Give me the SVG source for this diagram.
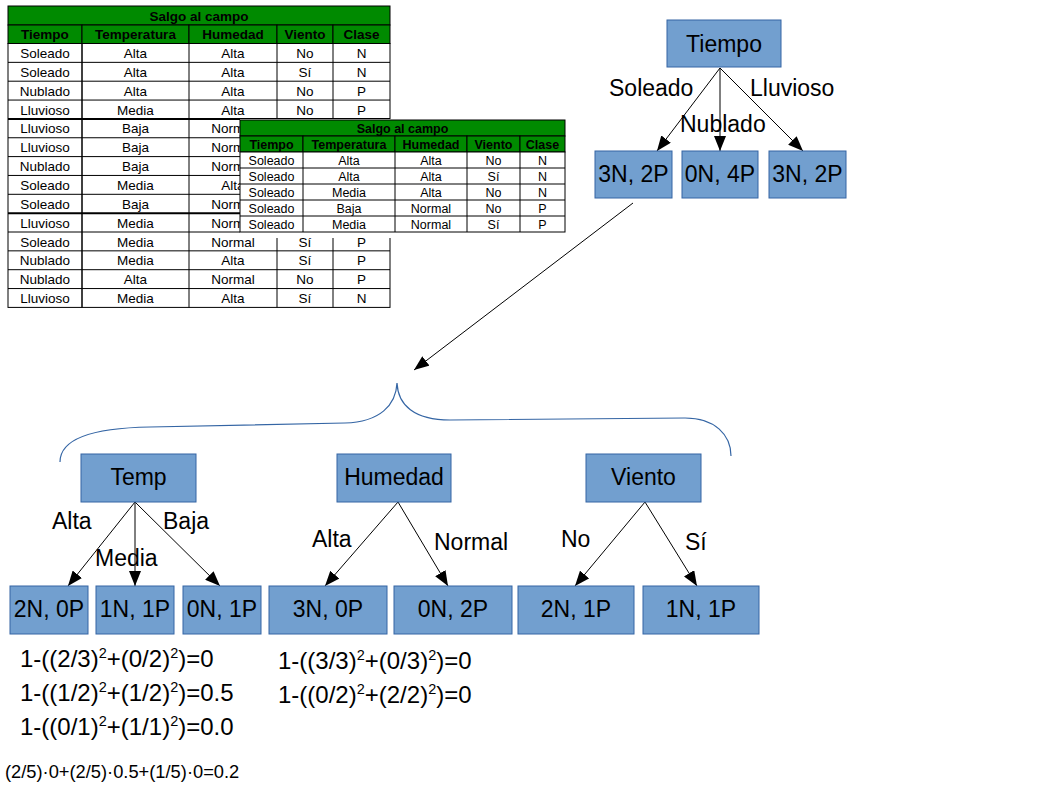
<svg xmlns="http://www.w3.org/2000/svg" width="1058" height="794" viewBox="0 0 1058 794">
<style>
text{font-family:"Liberation Sans",Arial,sans-serif;fill:#000}
.t1 text{font-size:13.5px;text-anchor:middle}
.t2 text{font-size:12.5px;text-anchor:middle}
.hd{font-weight:bold}
.cell{fill:#fff;stroke:#000;stroke-width:1}
.grn{fill:#008a00;stroke:#000;stroke-width:1}
.box{fill:#729fcf;stroke:#3465a4;stroke-width:1}
.lbl{font-size:23px}
.ctr{text-anchor:middle}
.edge{stroke:#000;stroke-width:1;fill:none;marker-end:url(#ah)}
.f{font-size:24px}
</style>
<defs>
<marker id="ah" markerWidth="15" markerHeight="12" refX="15" refY="6" orient="auto" markerUnits="userSpaceOnUse"><path d="M0,0 L15,6 L0,12 z" fill="#000"/></marker>
<clipPath id="cut"><rect x="0" y="0" width="240" height="320"/></clipPath>
</defs>
<rect width="1058" height="794" fill="#fff"/>

<g id="table-full" class="t1">
<rect class="grn" x="8" y="6" width="382" height="19"/>
<rect class="grn" x="8" y="25" width="74" height="18.5"/>
<rect class="grn" x="82" y="25" width="107" height="18.5"/>
<rect class="grn" x="189" y="25" width="88" height="18.5"/>
<rect class="grn" x="277" y="25" width="56" height="18.5"/>
<rect class="grn" x="333" y="25" width="57" height="18.5"/>
<text class="hd" x="199" y="21">Salgo al campo</text>
<text class="hd" x="45" y="39">Tiempo</text>
<text class="hd" x="135.5" y="39">Temperatura</text>
<text class="hd" x="233" y="39">Humedad</text>
<text class="hd" x="305" y="39">Viento</text>
<text class="hd" x="361.5" y="39">Clase</text>
<rect class="cell" x="8" y="43.5" width="382" height="263.9"/>
<g stroke="#000" stroke-width="1">
<line x1="82" y1="43.5" x2="82" y2="307.4" stroke-width="1.5"/>
<line x1="189" y1="43.5" x2="189" y2="307.4"/>
<line x1="277" y1="43.5" x2="277" y2="307.4"/>
<line x1="333" y1="43.5" x2="333" y2="307.4"/>
<line x1="8" y1="62.35" x2="390" y2="62.35"/>
<line x1="8" y1="81.2" x2="390" y2="81.2"/>
<line x1="8" y1="100.05" x2="390" y2="100.05"/>
<line x1="8" y1="118.9" x2="390" y2="118.9" stroke-width="2"/>
<line x1="8" y1="137.75" x2="390" y2="137.75"/>
<line x1="8" y1="156.6" x2="390" y2="156.6"/>
<line x1="8" y1="175.45" x2="390" y2="175.45"/>
<line x1="8" y1="194.3" x2="390" y2="194.3"/>
<line x1="8" y1="213.15" x2="390" y2="213.15" stroke-width="2"/>
<line x1="8" y1="232" x2="390" y2="232"/>
<line x1="8" y1="250.85" x2="390" y2="250.85"/>
<line x1="8" y1="269.7" x2="390" y2="269.7"/>
<line x1="8" y1="288.55" x2="390" y2="288.55"/>
</g>
<text x="45" y="58">Soleado</text><text x="135.5" y="58">Alta</text><text x="233" y="58">Alta</text><text x="305" y="58">No</text><text x="361.5" y="58">N</text>
<text x="45" y="76.85">Soleado</text><text x="135.5" y="76.85">Alta</text><text x="233" y="76.85">Alta</text><text x="305" y="76.85">Sí</text><text x="361.5" y="76.85">N</text>
<text x="45" y="95.7">Nublado</text><text x="135.5" y="95.7">Alta</text><text x="233" y="95.7">Alta</text><text x="305" y="95.7">No</text><text x="361.5" y="95.7">P</text>
<text x="45" y="114.55">Lluvioso</text><text x="135.5" y="114.55">Media</text><text x="233" y="114.55">Alta</text><text x="305" y="114.55">No</text><text x="361.5" y="114.55">P</text>
<text x="45" y="133.4">Lluvioso</text><text x="135.5" y="133.4">Baja</text><text x="233" y="133.4" clip-path="url(#cut)">Normal</text>
<text x="45" y="152.25">Lluvioso</text><text x="135.5" y="152.25">Baja</text><text x="233" y="152.25" clip-path="url(#cut)">Normal</text>
<text x="45" y="171.1">Nublado</text><text x="135.5" y="171.1">Baja</text><text x="233" y="171.1" clip-path="url(#cut)">Normal</text>
<text x="45" y="189.95">Soleado</text><text x="135.5" y="189.95">Media</text><text x="233" y="189.95" clip-path="url(#cut)">Alta</text>
<text x="45" y="208.8">Soleado</text><text x="135.5" y="208.8">Baja</text><text x="233" y="208.8" clip-path="url(#cut)">Normal</text>
<text x="45" y="227.65">Lluvioso</text><text x="135.5" y="227.65">Media</text><text x="233" y="227.65" clip-path="url(#cut)">Normal</text>
<text x="45" y="246.5">Soleado</text><text x="135.5" y="246.5">Media</text><text x="233" y="246.5">Normal</text><text x="305" y="246.5">Sí</text><text x="361.5" y="246.5">P</text>
<text x="45" y="265.35">Nublado</text><text x="135.5" y="265.35">Media</text><text x="233" y="265.35">Alta</text><text x="305" y="265.35">Sí</text><text x="361.5" y="265.35">P</text>
<text x="45" y="284.2">Nublado</text><text x="135.5" y="284.2">Alta</text><text x="233" y="284.2">Normal</text><text x="305" y="284.2">No</text><text x="361.5" y="284.2">P</text>
<text x="45" y="303.05">Lluvioso</text><text x="135.5" y="303.05">Media</text><text x="233" y="303.05">Alta</text><text x="305" y="303.05">Sí</text><text x="361.5" y="303.05">N</text>
</g>

<g id="table-soleado" class="t2">
<rect x="240" y="119" width="326" height="119" fill="#fff"/>
<rect class="grn" x="240" y="120" width="325" height="16"/>
<rect class="grn" x="240" y="136" width="63" height="16"/>
<rect class="grn" x="303" y="136" width="92" height="16"/>
<rect class="grn" x="395" y="136" width="72" height="16"/>
<rect class="grn" x="467" y="136" width="53" height="16"/>
<rect class="grn" x="520" y="136" width="45" height="16"/>
<text class="hd" x="402.5" y="132.5">Salgo al campo</text>
<text class="hd" x="271.5" y="148.5">Tiempo</text>
<text class="hd" x="349" y="148.5">Temperatura</text>
<text class="hd" x="431" y="148.5">Humedad</text>
<text class="hd" x="493.5" y="148.5">Viento</text>
<text class="hd" x="542.5" y="148.5">Clase</text>
<rect class="cell" x="240" y="152" width="325" height="80"/>
<g stroke="#000" stroke-width="1">
<line x1="303" y1="152" x2="303" y2="232"/>
<line x1="395" y1="152" x2="395" y2="232"/>
<line x1="467" y1="152" x2="467" y2="232"/>
<line x1="520" y1="152" x2="520" y2="232"/>
<line x1="240" y1="168" x2="565" y2="168"/>
<line x1="240" y1="184" x2="565" y2="184"/>
<line x1="240" y1="200" x2="565" y2="200"/>
<line x1="240" y1="216" x2="565" y2="216"/>
</g>
<text x="271.5" y="164.5">Soleado</text><text x="349" y="164.5">Alta</text><text x="431" y="164.5">Alta</text><text x="493.5" y="164.5">No</text><text x="542.5" y="164.5">N</text>
<text x="271.5" y="180.5">Soleado</text><text x="349" y="180.5">Alta</text><text x="431" y="180.5">Alta</text><text x="493.5" y="180.5">Sí</text><text x="542.5" y="180.5">N</text>
<text x="271.5" y="196.5">Soleado</text><text x="349" y="196.5">Media</text><text x="431" y="196.5">Alta</text><text x="493.5" y="196.5">No</text><text x="542.5" y="196.5">N</text>
<text x="271.5" y="212.5">Soleado</text><text x="349" y="212.5">Baja</text><text x="431" y="212.5">Normal</text><text x="493.5" y="212.5">No</text><text x="542.5" y="212.5">P</text>
<text x="271.5" y="228.5">Soleado</text><text x="349" y="228.5">Media</text><text x="431" y="228.5">Normal</text><text x="493.5" y="228.5">Sí</text><text x="542.5" y="228.5">P</text>
</g>

<g id="connectors">
<line class="edge" x1="720" y1="68" x2="657" y2="151"/>
<line class="edge" x1="720" y1="68" x2="720" y2="151"/>
<line class="edge" x1="720" y1="68" x2="803" y2="151"/>
<line class="edge" x1="633" y1="203" x2="414" y2="370"/>
<line class="edge" x1="135" y1="502" x2="68" y2="586"/>
<line class="edge" x1="135" y1="502" x2="135" y2="586"/>
<line class="edge" x1="135" y1="502" x2="220" y2="586"/>
<line class="edge" x1="398" y1="502" x2="325" y2="586"/>
<line class="edge" x1="398" y1="502" x2="448" y2="586"/>
<line class="edge" x1="645" y1="502" x2="575" y2="586"/>
<line class="edge" x1="645" y1="502" x2="697" y2="586"/>
</g>

<g id="edge-labels" class="lbl">
<text x="609" y="96" class="lbl">Soleado</text>
<text x="680" y="132" class="lbl">Nublado</text>
<text x="750" y="96" class="lbl">Lluvioso</text>
<text x="52" y="529" class="lbl">Alta</text>
<text x="95" y="566" class="lbl">Media</text>
<text x="163" y="529" class="lbl">Baja</text>
<text x="312" y="547" class="lbl">Alta</text>
<text x="434" y="550" class="lbl">Normal</text>
<text x="561" y="547" class="lbl">No</text>
<text x="685" y="550" class="lbl">Sí</text>
</g>

<path id="brace" d="M60,462 C60,440 90,428 150,427 L345,423 C380,422 396,405 397,383 C398,405 414,420 450,420 L685,418 C715,418 731,435 731,456" fill="none" stroke="#3465a4" stroke-width="1.2"/>

<g id="n-tiempo"><rect class="box" x="667" y="20" width="114" height="47"/><text class="lbl ctr" x="724" y="52">Tiempo</text></g>
<g id="n-soleado"><rect class="box" x="595" y="151" width="77" height="47"/><text class="lbl ctr" x="633.5" y="182">3N, 2P</text></g>
<g id="n-nublado"><rect class="box" x="682" y="151" width="76" height="47"/><text class="lbl ctr" x="720" y="182">0N, 4P</text></g>
<g id="n-lluvioso"><rect class="box" x="769" y="151" width="77" height="47"/><text class="lbl ctr" x="807.5" y="182">3N, 2P</text></g>

<g id="n-temp"><rect class="box" x="81" y="454" width="115" height="48"/><text class="lbl ctr" x="138.5" y="485">Temp</text></g>
<g id="n-humedad"><rect class="box" x="337" y="454" width="114" height="48"/><text class="lbl ctr" x="394" y="485">Humedad</text></g>
<g id="n-viento"><rect class="box" x="586" y="454" width="115" height="48"/><text class="lbl ctr" x="643.5" y="485">Viento</text></g>

<g id="n-t-alta"><rect class="box" x="10" y="586" width="78" height="48"/><text class="lbl ctr" x="49" y="617">2N, 0P</text></g>
<g id="n-t-media"><rect class="box" x="96" y="586" width="78" height="48"/><text class="lbl ctr" x="135" y="617">1N, 1P</text></g>
<g id="n-t-baja"><rect class="box" x="183" y="586" width="78" height="48"/><text class="lbl ctr" x="222" y="617">0N, 1P</text></g>
<g id="n-h-alta"><rect class="box" x="269" y="586" width="118" height="48"/><text class="lbl ctr" x="328" y="617">3N, 0P</text></g>
<g id="n-h-normal"><rect class="box" x="394" y="586" width="118" height="48"/><text class="lbl ctr" x="453" y="617">0N, 2P</text></g>
<g id="n-v-no"><rect class="box" x="518" y="586" width="116" height="48"/><text class="lbl ctr" x="576" y="617">2N, 1P</text></g>
<g id="n-v-si"><rect class="box" x="643" y="586" width="116" height="48"/><text class="lbl ctr" x="701" y="617">1N, 1P</text></g>

<g id="formulas" class="f">
<text class="f" x="20" y="667">1-((2/3)<tspan font-size="14.5" dy="-9">2</tspan><tspan dy="9">+(0/2)</tspan><tspan font-size="14.5" dy="-9">2</tspan><tspan dy="9">)=0</tspan></text>
<text class="f" x="20" y="701">1-((1/2)<tspan font-size="14.5" dy="-9">2</tspan><tspan dy="9">+(1/2)</tspan><tspan font-size="14.5" dy="-9">2</tspan><tspan dy="9">)=0.5</tspan></text>
<text class="f" x="20" y="735">1-((0/1)<tspan font-size="14.5" dy="-9">2</tspan><tspan dy="9">+(1/1)</tspan><tspan font-size="14.5" dy="-9">2</tspan><tspan dy="9">)=0.0</tspan></text>
<text class="f" x="278" y="669">1-((3/3)<tspan font-size="14.5" dy="-9">2</tspan><tspan dy="9">+(0/3)</tspan><tspan font-size="14.5" dy="-9">2</tspan><tspan dy="9">)=0</tspan></text>
<text class="f" x="278" y="703">1-((0/2)<tspan font-size="14.5" dy="-9">2</tspan><tspan dy="9">+(2/2)</tspan><tspan font-size="14.5" dy="-9">2</tspan><tspan dy="9">)=0</tspan></text>
<text x="5" y="778" font-size="18.3">(2/5)·0+(2/5)·0.5+(1/5)·0=0.2</text>
</g>
</svg>
